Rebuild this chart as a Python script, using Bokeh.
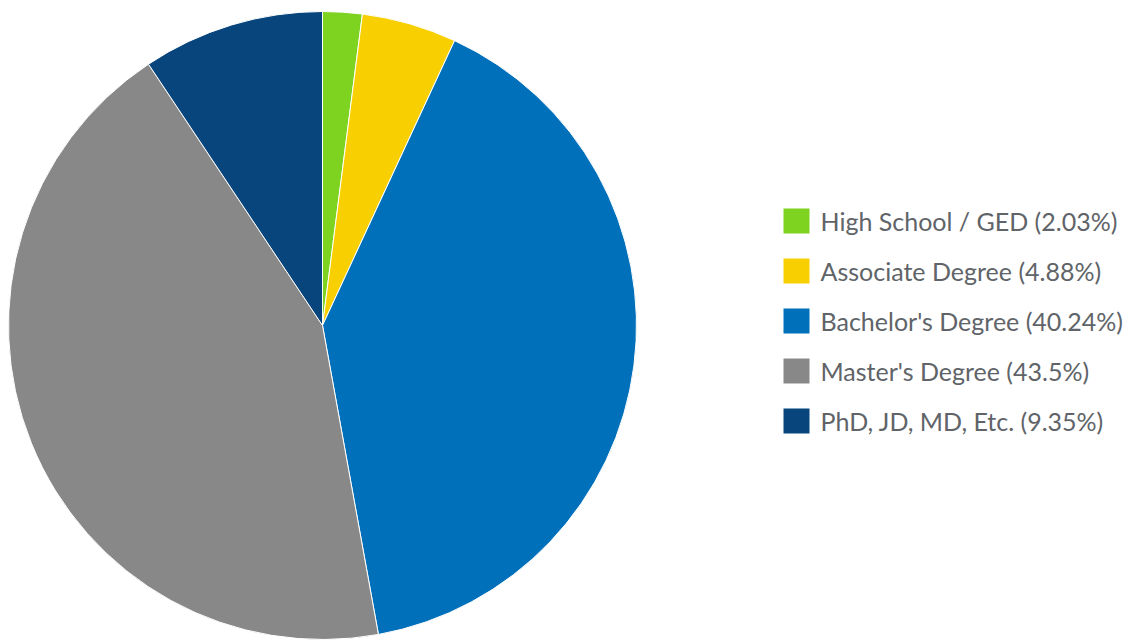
from math import pi
from bokeh.plotting import figure
from bokeh.models import ColumnDataSource, Range1d
from bokeh.core.properties import value
from bokeh.embed import file_html
from bokeh.resources import INLINE

categories = ["High School / GED", "Associate Degree", "Bachelor's Degree",
              "Master's Degree", "PhD, JD, MD, Etc."]
percents = [2.03, 4.88, 40.24, 43.5, 9.35]
colors = ["#7ED321", "#F8CF00", "#0070BA", "#888888", "#07457C"]

W, H = 1138, 640
cx, cy, r = 322, 640 - 325, 314

total = sum(percents)
starts, ends = [], []
acc = 0.0
for v in percents:
    a0 = pi / 2 - 2 * pi * acc / total
    acc += v
    a1 = pi / 2 - 2 * pi * acc / total
    starts.append(a0)
    ends.append(a1)

src = ColumnDataSource(dict(start=starts, end=ends, color=colors,
                            x=[cx] * len(percents), y=[cy] * len(percents)))

p = figure(width=W, height=H, x_range=Range1d(0, W), y_range=Range1d(0, H),
           output_backend="svg", toolbar_location=None, min_border=0)
p.axis.visible = False
p.grid.visible = False
p.outline_line_color = None
p.background_fill_color = "white"

p.wedge(x="x", y="y", radius=r, start_angle="start", end_angle="end",
        direction="clock", fill_color="color", line_color="white",
        line_width=1, source=src)

# legend
n = len(categories)
ly0 = 640 - 220.5
step = 50.0
lx_box = 796
lx_txt = 820
labels = [f"{c} ({v}%)" for c, v in zip(categories, percents)]
ys = [ly0 - i * step for i in range(n)]
lsrc = ColumnDataSource(dict(x=[lx_box] * n, tx=[lx_txt] * n, y=ys,
                             color=colors, label=labels))
p.rect(x="x", y="y", width=26, height=25, fill_color="color",
       line_color=None, source=lsrc)
p.text(x="tx", y="y", text="label", text_font=value("Lato"),
       text_font_size="25px", text_color="#606468",
       text_baseline="middle", text_align="left", source=lsrc)

open("out.html", "w").write(file_html(p, INLINE))
